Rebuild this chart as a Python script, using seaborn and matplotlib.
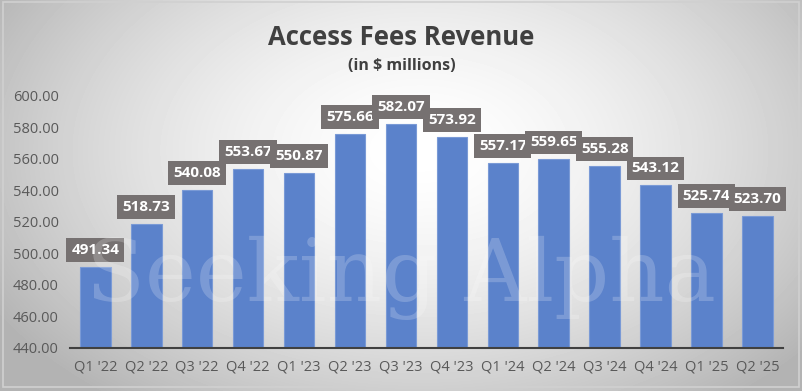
import numpy as np
import pandas as pd
import seaborn as sns
import matplotlib.pyplot as plt

quarters = ["Q1 '22", "Q2 '22", "Q3 '22", "Q4 '22", "Q1 '23", "Q2 '23", "Q3 '23",
            "Q4 '23", "Q1 '24", "Q2 '24", "Q3 '24", "Q4 '24", "Q1 '25", "Q2 '25"]
revenue = [491.34, 518.73, 540.08, 553.67, 550.87, 575.66, 582.07,
           573.92, 557.17, 559.65, 555.28, 543.12, 525.74, 523.70]
yticks = [440, 460, 480, 500, 520, 540, 560, 580, 600]

df = pd.DataFrame({'quarter': quarters, 'revenue': revenue})

sns.set_style('white')
plt.rcParams['font.family'] = ['Open Sans', 'DejaVu Sans']

fig = plt.figure(figsize=(8.03, 3.91), dpi=100)

# radial grey gradient behind everything, like the Excel chart area
bg = fig.add_axes([0, 0, 1, 1], zorder=-10)
yy, xx = np.mgrid[0:391, 0:803]
r = np.sqrt(((xx - 420) / 500) ** 2 + ((yy - 150) / 320) ** 2)
shade = np.clip(1 - 0.3 * r ** 1.6, 0.7, 1)
bg.imshow(shade, cmap='gray', vmin=0, vmax=1, aspect='auto', extent=[0, 803, 391, 0])
bg.add_patch(plt.Rectangle((3, 2), 796, 385, fill=False, ec='#d0d0d0', lw=1.2))
bg.set_xlim(0, 803)
bg.set_ylim(391, 0)
bg.axis('off')

ax = fig.add_axes([0.087, 0.110, 0.888, 0.645])
ax.patch.set_alpha(0)
sns.barplot(data=df, x='quarter', y='revenue', color='#5B82CB', width=0.6,
            saturation=1, edgecolor='#7a9ad6', linewidth=0.8, ax=ax)

ax.set_ylim(440, 600)
ax.set_yticks(yticks)
ax.set_yticklabels([f'{v:.2f}' for v in yticks])
ax.set_xlabel('')
ax.set_ylabel('')
ax.tick_params(axis='both', length=0, labelsize=10.5, colors='#595959')
ax.tick_params(axis='x', pad=8)
ax.tick_params(axis='y', pad=8)
for side in ['top', 'right', 'left']:
    ax.spines[side].set_visible(False)
ax.spines['bottom'].set_color('#404040')
ax.spines['bottom'].set_linewidth(1.5)

for i, v in enumerate(revenue):
    ax.annotate(f'{v:.2f}', (i, v), xytext=(0, 17), textcoords='offset pixels',
                ha='center', va='center', color='white', fontsize=11, fontweight='bold',
                bbox=dict(boxstyle='square,pad=0.32', fc='#767171', ec='none'),
                annotation_clip=False)

# watermark
fig.text(0.50, 0.29, 'Seeking Alpha', fontsize=62, family='DejaVu Serif',
         color='white', alpha=0.2, ha='center', va='center')

fig.text(0.5, 0.905, 'Access Fees Revenue', ha='center', va='center',
         fontsize=18.5, fontweight='bold', color='#404040')
fig.text(0.5, 0.832, '(in $ millions)', ha='center', va='center',
         fontsize=11.5, fontweight='bold', color='#404040')

fig.savefig('out.png', dpi=100)
